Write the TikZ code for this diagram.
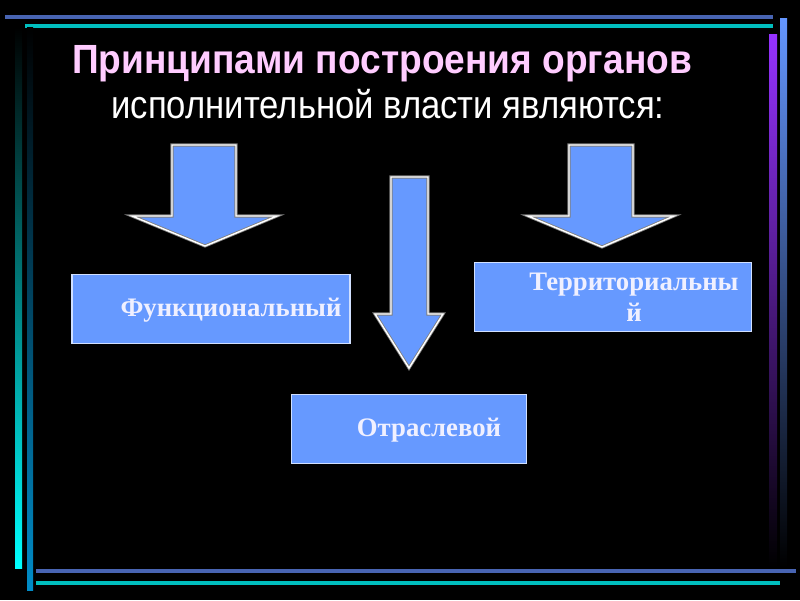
\documentclass[tikz,border=0pt]{standalone}
\usepackage{fontspec}
\setmainfont{Liberation Serif}
\newfontfamily\headfont[FakeStretch=0.91]{Liberation Sans}
\newfontfamily\subheadfont[FakeStretch=0.88]{Liberation Sans}
\definecolor{boxblue}{RGB}{102,153,255}
\definecolor{titlepink}{RGB}{255,204,255}
\definecolor{barblue}{RGB}{72,100,178}
\definecolor{barcyan}{RGB}{0,190,190}
\definecolor{barteal}{RGB}{0,140,200}
\definecolor{barviolet}{RGB}{150,50,255}
\definecolor{barsky}{RGB}{100,150,255}
\begin{document}
\begin{tikzpicture}[x=0.025cm, y=-0.025cm,
    box/.style={draw=white!70!boxblue, line width=0.8pt, fill=boxblue, minimum height=1.72cm},
    boxtext/.style={text=white!94!blue, font=\bfseries\fontsize{19}{22}\selectfont, align=center},
    downarrow/.style={fill=boxblue, draw=gray, line width=0.6pt, double=white, double distance=1pt, line join=miter}]
\fill[black] (0,0) rectangle (800,600);
\useasboundingbox (0,0) rectangle (800,600);

% frame
\fill[barblue] (5,15) rectangle (773,19);
\fill[barcyan] (25,24) rectangle (773,28);
\fill[barblue] (36,569) rectangle (796,573);
\fill[barcyan] (36,581) rectangle (780,585);
\shade[top color=black, bottom color=cyan] (15,27) rectangle (22,568);
\shade[top color=black, bottom color=barteal] (27,27) rectangle (33,590);
\shade[top color=barviolet, bottom color=black] (769,34) rectangle (777,567);
\shade[top color=barsky, bottom color=black] (780,18) rectangle (787,567);

% title
\node[font=\headfont\bfseries\fontsize{29}{32}\selectfont, text=titlepink] (title) at (382,64) {Принципами построения органов};
\node[font=\subheadfont\fontsize{28}{31}\selectfont, text=white] (subtitle) at (388,104) {исполнительной власти являются:};

% arrows
\draw[downarrow] (172,145) -- (236,145) -- (236,216) -- (277,216) -- (205,246) -- (132,216) -- (172,216) -- cycle;
\draw[downarrow] (391,177) -- (428,177) -- (428,314) -- (443,314) -- (409,368) -- (375,314) -- (391,314) -- cycle;
\draw[downarrow] (569,145) -- (633,145) -- (633,216) -- (674,216) -- (602,247) -- (528,216) -- (569,216) -- cycle;

% boxes
\node[box, minimum width=6.95cm] (func) at (211,309) {};
\node[boxtext] (funcText) at (231,310) {Функциональный};
\node[box, minimum width=6.93cm] (terr) at (613,297) {};
\node[boxtext] (terrText) at (634,297) {Территориальны\\й};
\node[box, minimum width=5.87cm] (otr) at (409,429) {};
\node[boxtext] (otrText) at (429,430) {Отраслевой};
\end{tikzpicture}
\end{document}
